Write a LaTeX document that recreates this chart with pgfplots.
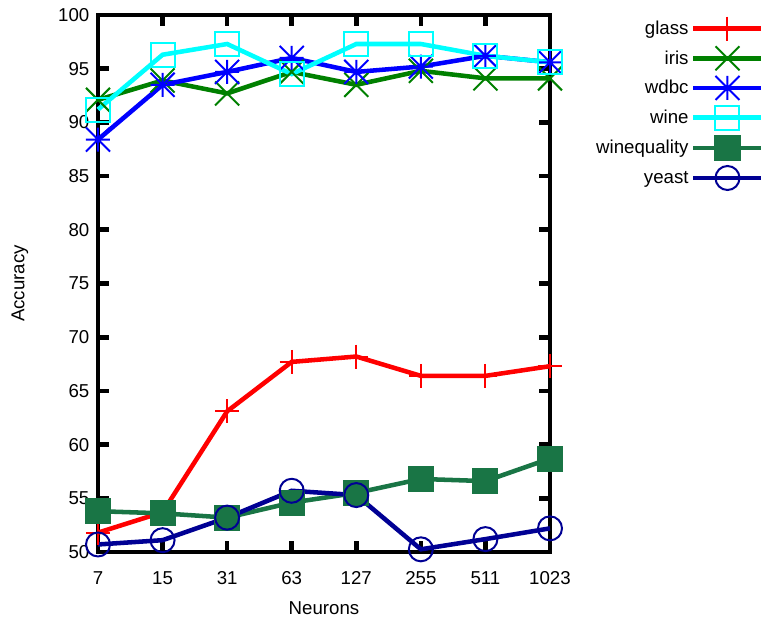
\documentclass[border=0pt]{standalone}
\usepackage{pgfplots}
\pgfplotsset{compat=1.18}
\usepackage{fontspec}
\setmainfont{Liberation Sans}
\definecolor{cglass}{RGB}{255,0,0}
\definecolor{ciris}{RGB}{0,128,0}
\definecolor{cwdbc}{RGB}{0,0,255}
\definecolor{cwine}{RGB}{0,255,255}
\definecolor{cwq}{RGB}{25,117,69}
\definecolor{cyeast}{RGB}{0,0,148}
\pgfdeclareplotmark{gpstar}{%
 \pgfpathmoveto{\pgfqpoint{0pt}{\pgfplotmarksize}}\pgfpathlineto{\pgfqpoint{0pt}{-\pgfplotmarksize}}%
 \pgfpathmoveto{\pgfqpoint{\pgfplotmarksize}{0pt}}\pgfpathlineto{\pgfqpoint{-\pgfplotmarksize}{0pt}}%
 \pgfpathmoveto{\pgfqpoint{\pgfplotmarksize}{\pgfplotmarksize}}\pgfpathlineto{\pgfqpoint{-\pgfplotmarksize}{-\pgfplotmarksize}}%
 \pgfpathmoveto{\pgfqpoint{\pgfplotmarksize}{-\pgfplotmarksize}}\pgfpathlineto{\pgfqpoint{-\pgfplotmarksize}{\pgfplotmarksize}}%
 \pgfusepathqstroke}
\pgfdeclareplotmark{gpx}{%
 \pgfpathmoveto{\pgfqpoint{\pgfplotmarksize}{\pgfplotmarksize}}\pgfpathlineto{\pgfqpoint{-\pgfplotmarksize}{-\pgfplotmarksize}}%
 \pgfpathmoveto{\pgfqpoint{\pgfplotmarksize}{-\pgfplotmarksize}}\pgfpathlineto{\pgfqpoint{-\pgfplotmarksize}{\pgfplotmarksize}}%
 \pgfusepathqstroke}
\begin{document}
\begin{tikzpicture}[x=1pt,y=1pt]
\begin{axis}[
  name=ax,
  scale only axis,
  width=339pt, height=402.75pt,
  xmin=0, xmax=7, ymin=50, ymax=100,
  xtick={0,1,2,3,4,5,6,7},
  xticklabels={7,15,31,63,127,255,511,1023},
  ytick={50,55,...,100},
  tick align=inside,
  major tick length=8pt,
  tick style={line width=3.5pt, black},
  axis line style={line width=3.5pt},
  clip=false,
  font=\fontsize{14}{16.8}\selectfont,
  /pgf/number format/assume math mode=true,
  xlabel={Neurons}, ylabel={Accuracy},
  xlabel style={at={(axis description cs:0.5,-0.104)}, anchor=center},
  ylabel style={at={(axis description cs:-0.1726,0.5)}, anchor=center},
  xticklabel style={yshift=-11pt},
  yticklabel style={xshift=-3pt},
  legend plot pos=right,
  legend cell align=right,
  legend style={draw=none, fill=none, at={(1.4735,0.9975)}, anchor=north east,
    inner xsep=0pt, inner ysep=0pt, row sep=4.25pt,
    font=\fontsize{14}{16.8}\selectfont},
  legend image code/.code={\draw[mark repeat=2,mark phase=2,#1] plot coordinates {(0pt,0pt) (25.5pt,0pt) (51pt,0pt)};},
  every axis plot/.append style={line width=3.4pt},
]
\addplot[cglass, mark=+, mark size=9pt, mark options={line width=1.5pt, solid}] coordinates {
(0,51.8) (1,53.7) (2,63.1) (3,67.7) (4,68.2) (5,66.4) (6,66.4) (7,67.3)};
\addlegendentry{glass}
\addplot[ciris, mark=gpx, mark size=9pt, mark options={line width=1.5pt, solid}] coordinates {
(0,92.1) (1,93.9) (2,92.7) (3,94.7) (4,93.5) (5,94.8) (6,94.1) (7,94.1)};
\addlegendentry{iris}
\addplot[cwdbc, mark=gpstar, mark size=9pt, mark options={line width=1.5pt, solid}] coordinates {
(0,88.4) (1,93.5) (2,94.7) (3,96.0) (4,94.7) (5,95.2) (6,96.2) (7,95.6)};
\addlegendentry{wdbc}
\addplot[cwine, mark=square, mark size=9pt, mark options={line width=1.5pt, solid}] coordinates {
(0,91.2) (1,96.3) (2,97.3) (3,94.5) (4,97.3) (5,97.3) (6,96.2) (7,95.6)};
\addlegendentry{wine}
\addplot[cwq, mark=square*, mark size=9.4pt, mark options={line width=0pt, solid}] coordinates {
(0,53.8) (1,53.6) (2,53.2) (3,54.6) (4,55.5) (5,56.8) (6,56.6) (7,58.7)};
\addlegendentry{winequality}
\addplot[cyeast, mark=o, mark size=9pt, mark options={line width=1.5pt, solid}] coordinates {
(0,50.7) (1,51.1) (2,53.2) (3,55.7) (4,55.3) (5,50.25) (6,51.2) (7,52.2)};
\addlegendentry{yeast}
\coordinate (bl) at (rel axis cs:0,0);
\coordinate (tr) at (rel axis cs:1,1);
\end{axis}
\pgfresetboundingbox
\path ([xshift=-73.5pt, yshift=-54pt]bl) rectangle ([xshift=160.5pt, yshift=11.25pt]tr);
\end{tikzpicture}
\end{document}
